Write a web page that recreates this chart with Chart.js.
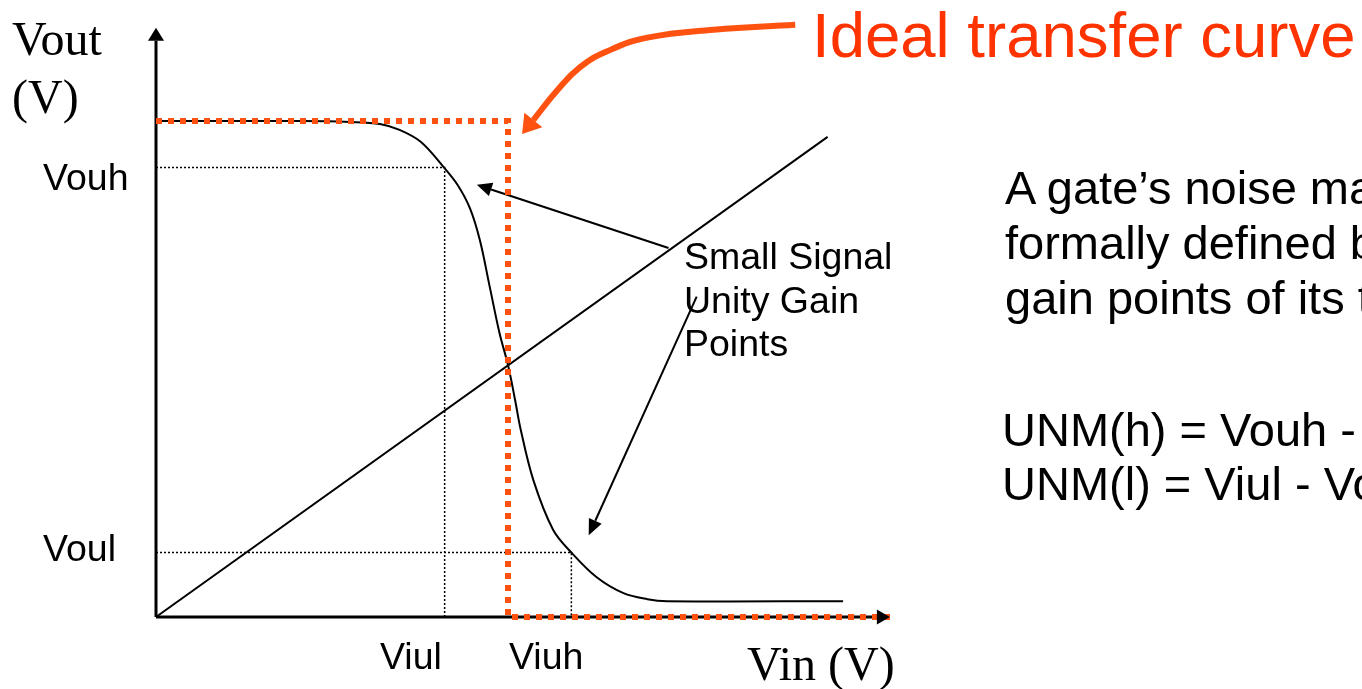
<!DOCTYPE html>
<html>
<head>
<meta charset="utf-8">
<script src="https://cdn.jsdelivr.net/npm/chart.js@4.4.1/dist/chart.umd.min.js"></script>
<style>
    html, body { margin: 0; padding: 0; background: #fff; }
    body { width: 1362px; height: 689px; overflow: hidden; position: relative; }
    #vtc-chart { position: absolute; left: 0; top: 0; }
    .lbl { position: absolute; white-space: nowrap; line-height: 1; color: #000; }
    .sans { font-family: "Liberation Sans", Arial, Helvetica, sans-serif; }
    .serif { font-family: "Liberation Serif", "Times New Roman", serif; font-size: 48px; }
    .tick { font-size: 37.5px; }
    .note { font-size: 47px; }
</style>
</head>
<body>
<canvas id="vtc-chart" width="1362" height="689"></canvas>

<div class="lbl serif" style="left:12px; top:15px;">Vout</div>
<div class="lbl serif" style="left:12px; top:73px;">(V)</div>
<div class="lbl serif" style="left:747px; top:640px;">Vin (V)</div>

<div class="lbl sans tick" style="left:43px; top:159px;">Vouh</div>
<div class="lbl sans tick" style="left:43px; top:530px;">Voul</div>
<div class="lbl sans tick" style="left:380px; top:638px;">Viul</div>
<div class="lbl sans tick" style="left:509px; top:638px;">Viuh</div>

<div class="lbl sans tick" style="left:684px; top:235px; line-height:43.5px;">Small Signal<br>Unity Gain<br>Points</div>

<div class="lbl sans" style="left:812px; top:4px; font-size:63.5px; color:#ff3300;">Ideal transfer curve</div>

<div class="lbl sans note" style="left:1005px; top:160px; line-height:55px;">A gate’s noise margin is<br>formally defined by the unity<br>gain points of its transfer curve:</div>
<div class="lbl sans note" style="left:1002px; top:403px; line-height:54px;">UNM(h) = Vouh - Viuh<br>UNM(l) = Viul - Voul</div>

<script>
// --- Values (volts) ---
// real transfer curve of the gate
const vinCurve  = [0, 1.02, 1.38, 1.59, 1.73, 1.88, 2.04, 2.14, 2.23, 2.30, 2.37, 2.44, 2.50, 2.55, 2.59, 2.68, 2.82, 2.95, 3.13, 3.32, 3.49, 3.63, 4.88];
const voutCurve = [5.0, 5.0, 4.99, 4.97, 4.91, 4.79, 4.54, 4.36, 4.12, 3.80, 3.33, 2.86, 2.54, 2.19, 1.89, 1.38, 0.88, 0.65, 0.40, 0.24, 0.18, 0.16, 0.16];

// ideal step transfer curve
const idealVin  = [0, 2.5, 2.5, 5.22];
const idealVout = [5, 5, 0, 0];

// Vout = Vin reference line
const unityVin  = [0, 4.77];
const unityVout = [0, 4.84];

// unity gain points
const VOUH = 4.53;
const VOUL = 0.65;
const VIUL = 2.05;
const VIUH = 2.95;

// axis extents (arrow bases)
const VIN_AXIS_END = 5.12;
const VOUT_AXIS_END = 5.81;

// "Small Signal Unity Gain Points" pointers
const upperPtrVin  = [3.64, 2.38];
const upperPtrVout = [3.72, 4.31];
const lowerPtrVin  = [3.84, 3.12];
const lowerPtrVout = [3.23, 0.97];

// "Ideal transfer curve" callout
const calloutVin  = [4.54, 3.96, 3.49, 3.20, 3.01, 2.85, 2.68];
const calloutVout = [5.97, 5.92, 5.84, 5.70, 5.54, 5.31, 5.01];

const ORANGE = '#ff5210';
const BLACK = '#000000';

const toPoints = (xs, ys) => xs.map((x, i) => ({ x: x, y: ys[i] }));

// draws a filled head past the last point of any dataset with an `arrow` option
const arrowHeads = {
    id: 'arrowHeads',
    afterDatasetsDraw(chart) {
        const ctx = chart.ctx;
        chart.data.datasets.forEach((ds, i) => {
            if (!ds.arrow) return;
            const pts = chart.getDatasetMeta(i).data;
            const a = pts[pts.length - 2];
            const b = pts[pts.length - 1];
            const ang = Math.atan2(b.y - a.y, b.x - a.x);
            ctx.save();
            ctx.translate(b.x, b.y);
            ctx.rotate(ang);
            ctx.beginPath();
            ctx.moveTo(ds.arrow.length, 0);
            ctx.lineTo(0, -ds.arrow.width / 2);
            ctx.lineTo(0, ds.arrow.width / 2);
            ctx.closePath();
            ctx.fillStyle = ds.borderColor;
            ctx.fill();
            ctx.restore();
        });
    }
};

const line = (points, color, width, extra) => Object.assign({
    data: points,
    showLine: true,
    borderColor: color,
    backgroundColor: color,
    borderWidth: width,
    pointRadius: 0,
    fill: false,
    clip: false
}, extra || {});

const datasets = [
    line(toPoints(idealVin, idealVout), ORANGE, 6, { borderDash: [6, 6], borderCapStyle: 'butt', borderJoinStyle: 'miter' }),
    line(toPoints(calloutVin, calloutVout), ORANGE, 6, { tension: 0.45, arrow: { length: 18, width: 23 } }),
    line(toPoints(vinCurve, voutCurve), BLACK, 2, { tension: 0.35 }),
    line(toPoints(unityVin, unityVout), BLACK, 2),
    line(toPoints([0, VIUL, VIUL], [VOUH, VOUH, 0]), BLACK, 1.5, { borderDash: [2, 2] }),
    line(toPoints([0, VIUH, VIUH], [VOUL, VOUL, 0]), BLACK, 1.5, { borderDash: [2, 2] }),
    line(toPoints(upperPtrVin, upperPtrVout), BLACK, 2, { arrow: { length: 15, width: 14 } }),
    line(toPoints(lowerPtrVin, lowerPtrVout), BLACK, 2, { arrow: { length: 16, width: 14 } }),
    line(toPoints([0, 0], [0, VOUT_AXIS_END]), BLACK, 3, { arrow: { length: 13, width: 16 } }),
    line(toPoints([0, VIN_AXIS_END], [0, 0]), BLACK, 3, { arrow: { length: 13, width: 15 } })
];

new Chart(document.getElementById('vtc-chart'), {
    type: 'scatter',
    data: { datasets: datasets },
    options: {
        responsive: false,
        animation: false,
        events: [],
        layout: { padding: { left: 156, right: 361.2, top: 21.8, bottom: 72 } },
        scales: {
            x: { type: 'linear', min: 0, max: 6, display: false },
            y: { type: 'linear', min: 0, max: 6, display: false }
        },
        plugins: { legend: { display: false }, tooltip: { enabled: false } }
    },
    plugins: [arrowHeads]
});
</script>
</body>
</html>
